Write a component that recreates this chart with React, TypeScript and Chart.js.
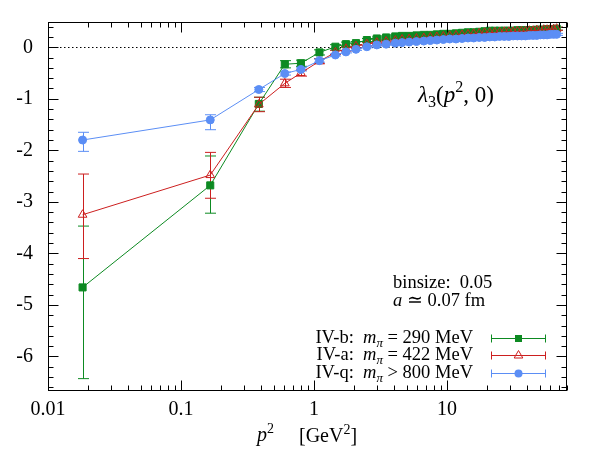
import React, { useEffect, useRef } from 'react';
import { Chart, registerables } from 'chart.js';

Chart.register(...registerables);

const FONT = '"Liberation Serif", "Times New Roman", serif';

// momentum squared p^2 in GeV^2
const p2 = [
  0.0182, 0.166, 0.385, 0.604, 0.798, 1.1, 1.45, 1.74, 2.07, 2.5, 2.97, 3.49, 4.09,
  4.6, 5.2, 5.9, 6.7, 7.5, 8.4, 9.4, 10.5, 11.7, 13.0, 14.4, 15.9, 17.5, 19.2, 21.0,
  22.9, 24.9, 27.0, 29.2, 31.5, 33.9, 36.4, 39.0, 41.7, 44.5, 47.4, 50.4, 53.5, 56.7,
  60.0, 63.4, 66.9,
];

// IV-b, m_pi = 290 MeV
const ivbValues = [
  -4.66, -2.68, -1.1, -0.33, -0.31, -0.1, 0.01, 0.06, 0.08, 0.14, 0.17, 0.19, 0.21,
  0.22, 0.22, 0.23, 0.24, 0.24, 0.25, 0.26, 0.26, 0.27, 0.28, 0.29, 0.29, 0.3, 0.31, 0.32,
  0.32, 0.32, 0.32, 0.32, 0.32, 0.33, 0.33, 0.33, 0.33, 0.33, 0.34, 0.34, 0.34, 0.35,
  0.35, 0.35, 0.36,
];
const ivbErrPlus = [
  1.19, 0.57, 0.13, 0.07, 0.06, 0.05, 0.04, 0.04, 0.03, 0.03, 0.03, 0.03, 0.03,
  0.03, 0.03, 0.03, 0.03, 0.03, 0.03, 0.03, 0.03, 0.03, 0.03, 0.03, 0.03, 0.03, 0.03, 0.03,
  0.03, 0.03, 0.03, 0.03, 0.03, 0.03, 0.03, 0.03, 0.03, 0.03, 0.03, 0.03, 0.03, 0.03,
  0.03, 0.03, 0.03,
];
const ivbErrMinus = [
  1.77, 0.54, 0.14, 0.07, 0.06, 0.05, 0.04, 0.04, 0.03, 0.03, 0.03, 0.03, 0.03,
  0.03, 0.03, 0.03, 0.03, 0.03, 0.03, 0.03, 0.03, 0.03, 0.03, 0.03, 0.03, 0.03, 0.03, 0.03,
  0.03, 0.03, 0.03, 0.03, 0.03, 0.03, 0.03, 0.03, 0.03, 0.03, 0.03, 0.03, 0.03, 0.03,
  0.03, 0.03, 0.03,
];

// IV-a, m_pi = 422 MeV
const ivaValues = [
  -3.25, -2.48, -1.11, -0.7, -0.5, -0.27, -0.1, -0.03, 0.02, 0.06, 0.09, 0.11, 0.13,
  0.15, 0.16, 0.17, 0.18, 0.19, 0.2, 0.21, 0.22, 0.23, 0.24, 0.25, 0.26, 0.27, 0.28, 0.28,
  0.29, 0.29, 0.3, 0.3, 0.3, 0.31, 0.31, 0.31, 0.32, 0.32, 0.33, 0.33, 0.34, 0.34,
  0.35, 0.35, 0.36,
];
const ivaErrPlus = [
  0.79, 0.44, 0.14, 0.08, 0.06, 0.05, 0.04, 0.04, 0.03, 0.03, 0.03, 0.03, 0.03,
  0.03, 0.03, 0.03, 0.03, 0.03, 0.03, 0.03, 0.03, 0.03, 0.03, 0.03, 0.03, 0.03, 0.03, 0.03,
  0.03, 0.03, 0.03, 0.03, 0.03, 0.03, 0.03, 0.03, 0.03, 0.03, 0.03, 0.03, 0.03, 0.03,
  0.03, 0.03, 0.03,
];
const ivaErrMinus = [
  0.85, 0.45, 0.14, 0.08, 0.06, 0.05, 0.04, 0.04, 0.03, 0.03, 0.03, 0.03, 0.03,
  0.03, 0.03, 0.03, 0.03, 0.03, 0.03, 0.03, 0.03, 0.03, 0.03, 0.03, 0.03, 0.03, 0.03, 0.03,
  0.03, 0.03, 0.03, 0.03, 0.03, 0.03, 0.03, 0.03, 0.03, 0.03, 0.03, 0.03, 0.03, 0.03,
  0.03, 0.03, 0.03,
];

// IV-q, m_pi > 800 MeV
const ivqValues = [
  -1.8, -1.41, -0.82, -0.51, -0.43, -0.26, -0.15, -0.09, -0.04, 0.01, 0.045, 0.06, 0.08,
  0.09, 0.1, 0.11, 0.12, 0.13, 0.14, 0.15, 0.16, 0.16, 0.17, 0.18, 0.18, 0.19, 0.19, 0.2,
  0.2, 0.21, 0.21, 0.21, 0.22, 0.22, 0.22, 0.22, 0.23, 0.23, 0.23, 0.24, 0.24, 0.24,
  0.25, 0.25, 0.25,
];
const ivqErrPlus = [
  0.15, 0.1, 0.04, 0.03, 0.03, 0.03, 0.02, 0.02, 0.02, 0.02, 0.02, 0.02, 0.02,
  0.02, 0.02, 0.02, 0.02, 0.02, 0.02, 0.02, 0.02, 0.02, 0.02, 0.02, 0.02, 0.02, 0.02, 0.02,
  0.02, 0.02, 0.02, 0.02, 0.02, 0.02, 0.02, 0.02, 0.02, 0.02, 0.02, 0.02, 0.02, 0.02,
  0.02, 0.02, 0.02,
];
const ivqErrMinus = [
  0.22, 0.19, 0.04, 0.03, 0.03, 0.03, 0.02, 0.02, 0.02, 0.02, 0.02, 0.02, 0.02,
  0.02, 0.02, 0.02, 0.02, 0.02, 0.02, 0.02, 0.02, 0.02, 0.02, 0.02, 0.02, 0.02, 0.02, 0.02,
  0.02, 0.02, 0.02, 0.02, 0.02, 0.02, 0.02, 0.02, 0.02, 0.02, 0.02, 0.02, 0.02, 0.02,
  0.02, 0.02, 0.02,
];

const xTickValues = [0.01, 0.1, 1, 10];
const xTickLabels = ['0.01', '0.1', '1', '10'];
const yTickValues = [-6, -5, -4, -3, -2, -1, 0];
const yTickLabels = ['-6', '-5', '-4', '-3', '-2', '-1', '0'];

const GREEN = '#0d8a22';
const RED = '#cc1f1f';
const BLUE = '#5b8ef5';

type Series = {
  label: string;
  mass: string;
  rel: string;
  values: number[];
  plus: number[];
  minus: number[];
  color: string;
  marker: 'rect' | 'triangle' | 'circle';
};

const series: Series[] = [
  { label: 'IV-b:', rel: ' = ', mass: '290 MeV', values: ivbValues, plus: ivbErrPlus, minus: ivbErrMinus, color: GREEN, marker: 'rect' },
  { label: 'IV-a:', rel: ' = ', mass: '422 MeV', values: ivaValues, plus: ivaErrPlus, minus: ivaErrMinus, color: RED, marker: 'triangle' },
  { label: 'IV-q:', rel: ' > ', mass: '800 MeV', values: ivqValues, plus: ivqErrPlus, minus: ivqErrMinus, color: BLUE, marker: 'circle' },
];

type Run = { t: string; it?: boolean; dy?: number; sz?: number };

function drawRuns(ctx: CanvasRenderingContext2D, runs: Run[], x: number, y: number, size: number, align: 'left' | 'right') {
  const fontOf = (r: Run) => `${r.it ? 'italic ' : ''}${(r.sz ?? 1) * size}px ${FONT}`;
  let w = 0;
  for (const r of runs) {
    ctx.font = fontOf(r);
    w += ctx.measureText(r.t).width;
  }
  let cx = align === 'left' ? x : x - w;
  ctx.textAlign = 'left';
  ctx.textBaseline = 'alphabetic';
  ctx.fillStyle = '#000';
  for (const r of runs) {
    ctx.font = fontOf(r);
    ctx.fillText(r.t, cx, y + (r.dy ?? 0) * size);
    cx += ctx.measureText(r.t).width;
  }
}

function drawMarker(ctx: CanvasRenderingContext2D, kind: string, x: number, y: number, color: string) {
  ctx.save();
  ctx.strokeStyle = color;
  ctx.fillStyle = color;
  ctx.lineWidth = 1;
  if (kind === 'rect') {
    ctx.fillRect(x - 3.5, y - 3.5, 7, 7);
  } else if (kind === 'triangle') {
    const r = 5;
    ctx.beginPath();
    ctx.moveTo(x, y - r);
    ctx.lineTo(x + r * 0.866, y + r / 2);
    ctx.lineTo(x - r * 0.866, y + r / 2);
    ctx.closePath();
    ctx.stroke();
  } else {
    ctx.beginPath();
    ctx.arc(x, y, 4, 0, Math.PI * 2);
    ctx.fill();
  }
  ctx.restore();
}

const decorPlugin = {
  id: 'decor',
  beforeDatasetsDraw(chart: any) {
    const { ctx, chartArea: a, scales } = chart;
    const xs = scales.x;
    const ys = scales.y;
    ctx.save();
    // dotted zero line
    const y0 = Math.round(ys.getPixelForValue(0)) + 0.5;
    ctx.strokeStyle = '#000';
    ctx.lineWidth = 1;
    ctx.setLineDash([1.5, 2.5]);
    ctx.beginPath();
    ctx.moveTo(a.left, y0);
    ctx.lineTo(a.right, y0);
    ctx.stroke();
    ctx.setLineDash([]);
    // error bars
    series.forEach((s) => {
      ctx.strokeStyle = s.color;
      ctx.lineWidth = 1;
      s.values.forEach((v, j) => {
        const px = Math.round(xs.getPixelForValue(p2[j])) + 0.5;
        const top = ys.getPixelForValue(v + s.plus[j]);
        const bot = ys.getPixelForValue(v - s.minus[j]);
        ctx.beginPath();
        ctx.moveTo(px, top);
        ctx.lineTo(px, bot);
        ctx.moveTo(px - 5.5, top);
        ctx.lineTo(px + 5.5, top);
        ctx.moveTo(px - 5.5, bot);
        ctx.lineTo(px + 5.5, bot);
        ctx.stroke();
      });
    });
    ctx.restore();
  },
  afterDatasetsDraw(chart: any) {
    const { ctx, chartArea: a, scales } = chart;
    const xs = scales.x;
    const ys = scales.y;
    ctx.save();
    ctx.strokeStyle = '#000';
    ctx.lineWidth = 1;
    const L = Math.round(a.left) + 0.5;
    const R = Math.round(a.right) - 0.5;
    const T = Math.round(a.top) + 0.5;
    const B = Math.round(a.bottom) - 0.5;
    ctx.strokeRect(L, T, R - L, B - T);
    ctx.beginPath();
    // x ticks (log), mirrored top and bottom
    for (let e = -2; e <= 1; e++) {
      for (let k = 1; k <= 9; k++) {
        const v = k * Math.pow(10, e);
        if (v > xs.max) continue;
        const px = Math.round(xs.getPixelForValue(v)) + 0.5;
        const len = k === 1 ? 10 : 5;
        ctx.moveTo(px, B);
        ctx.lineTo(px, B - len);
        ctx.moveTo(px, T);
        ctx.lineTo(px, T + len);
      }
    }
    // y ticks, mirrored left and right
    for (let i = -33; i <= 2; i++) {
      const v = i * 0.2;
      const py = Math.round(ys.getPixelForValue(v)) + 0.5;
      const major = i % 5 === 0;
      const len = major ? 10 : 5;
      ctx.moveTo(L, py);
      ctx.lineTo(L + len, py);
      ctx.moveTo(R, py);
      ctx.lineTo(R - len, py);
    }
    ctx.stroke();

    // axis title
    drawRuns(ctx, [{ t: 'p', it: true }, { t: '2', sz: 0.7, dy: -0.42 }], 257, 441, 20, 'left');
    drawRuns(ctx, [{ t: '[GeV' }, { t: '2', sz: 0.7, dy: -0.42 }, { t: ']' }], 299, 442, 20, 'left');

    // function label
    drawRuns(
      ctx,
      [
        { t: 'λ', it: true },
        { t: '3', sz: 0.7, dy: 0.2 },
        { t: '(' },
        { t: 'p', it: true },
        { t: '2', sz: 0.7, dy: -0.42 },
        { t: ', 0)' },
      ],
      418,
      102,
      23,
      'left'
    );

    // ensemble info
    drawRuns(ctx, [{ t: 'binsize:  0.05' }], 393, 288, 18.5, 'left');
    drawRuns(ctx, [{ t: 'a', it: true }, { t: ' ≃ 0.07 fm' }], 393, 305.5, 18.5, 'left');

    // key
    const rows = [337.5, 355, 372.5];
    series.forEach((s, i) => {
      const y = rows[i];
      drawRuns(
        ctx,
        [
          { t: s.label + '  ' },
          { t: 'm', it: true },
          { t: 'π', it: true, sz: 0.7, dy: 0.22 },
          { t: s.rel },
          { t: s.mass },
        ],
        473,
        y + 5,
        18.5,
        'right'
      );
      const yy = Math.round(y) + 0.5;
      ctx.strokeStyle = s.color;
      ctx.lineWidth = 1;
      ctx.beginPath();
      ctx.moveTo(491, yy);
      ctx.lineTo(546, yy);
      ctx.moveTo(491.5, yy - 4);
      ctx.lineTo(491.5, yy + 4);
      ctx.moveTo(545.5, yy - 4);
      ctx.lineTo(545.5, yy + 4);
      ctx.stroke();
      drawMarker(ctx, s.marker, 518.5, yy, s.color);
    });
    ctx.restore();
  },
};

export default function App() {
  const ref = useRef<HTMLCanvasElement | null>(null);

  useEffect(() => {
    const canvas = ref.current;
    if (!canvas) return;
    const order = [3, 2, 1];
    const chart = new Chart(canvas, {
      type: 'line',
      data: {
        datasets: series.map((s, i) => ({
          label: s.label,
          data: s.values.map((v, j) => ({ x: p2[j], y: v })),
          borderColor: s.color,
          borderWidth: 1,
          backgroundColor: s.marker === 'triangle' ? 'rgba(0,0,0,0)' : s.color,
          pointBackgroundColor: s.marker === 'triangle' ? 'rgba(0,0,0,0)' : s.color,
          pointBorderColor: s.color,
          pointBorderWidth: 1,
          pointStyle: s.marker,
          pointRadius: s.marker === 'circle' ? 4 : 5,
          tension: 0,
          fill: false,
          order: order[i],
        })),
      },
      options: {
        responsive: false,
        animation: false,
        events: [],
        devicePixelRatio: 1,
        layout: { padding: { top: 22, right: 33, left: 0, bottom: 0 } },
        plugins: {
          legend: { display: false },
          tooltip: { enabled: false },
        },
        scales: {
          x: {
            type: 'logarithmic',
            min: 0.01,
            max: 80,
            grid: { display: false, drawTicks: false },
            border: { display: false },
            afterBuildTicks: (scale: any) => {
              scale.ticks = xTickValues.map((v) => ({ value: v }));
            },
            afterFit: (scale: any) => {
              scale.height = 64;
              scale.paddingLeft = 0;
              scale.paddingRight = 0;
            },
            ticks: {
              autoSkip: false,
              maxRotation: 0,
              padding: 7,
              color: '#000',
              font: { family: FONT, size: 20 },
              callback: (v: any) => {
                const i = xTickValues.indexOf(Number(v));
                return i >= 0 ? xTickLabels[i] : '';
              },
            },
          },
          y: {
            type: 'linear',
            min: -6.67,
            max: 0.49,
            grid: { display: false, drawTicks: false },
            border: { display: false },
            afterBuildTicks: (scale: any) => {
              scale.ticks = yTickValues.map((v) => ({ value: v }));
            },
            afterFit: (scale: any) => {
              scale.width = 48;
              scale.paddingTop = 0;
              scale.paddingBottom = 0;
            },
            ticks: {
              autoSkip: false,
              padding: 15,
              color: '#000',
              font: { family: FONT, size: 20 },
              callback: (v: any) => {
                const i = yTickValues.indexOf(Number(v));
                return i >= 0 ? yTickLabels[i] : '';
              },
            },
          },
        },
      },
      plugins: [decorPlugin],
    } as any);
    return () => chart.destroy();
  }, []);

  return (
    <div style={{ position: 'absolute', left: 0, top: 0, width: 600, height: 455, background: '#fff' }}>
      <canvas ref={ref} width={600} height={455} style={{ display: 'block' }} />
    </div>
  );
}
